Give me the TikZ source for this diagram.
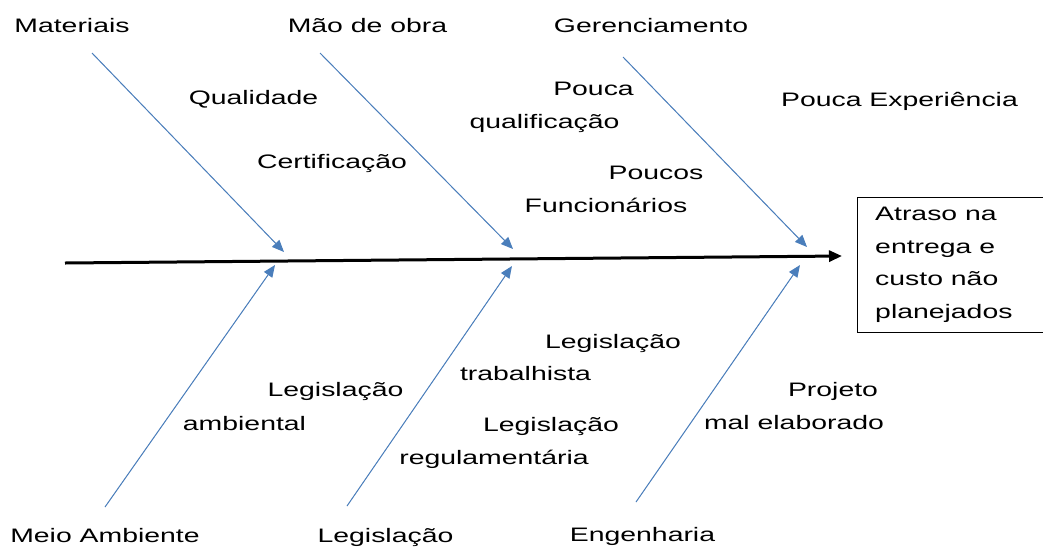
\documentclass[tikz,border=0pt]{standalone}
\usepackage{fontspec}
\setmainfont{Liberation Sans}[FakeStretch=1.456]
\usetikzlibrary{arrows.meta}
\definecolor{brblue}{RGB}{74,126,187}
\begin{document}
\begin{tikzpicture}[x=1pt,y=-1pt,
  lbl/.style={anchor=base,inner sep=0pt,font=\fontsize{19.5}{23}\selectfont},
  lbll/.style={anchor=base west,inner sep=0pt,font=\fontsize{19.5}{23}\selectfont},
  branch/.style={draw=brblue,line width=1pt,-{Triangle[length=12pt,width=10pt]},fill=brblue},
  spine/.style={draw=black,line width=3pt,-{Triangle[length=13pt,width=11pt]}},
  effectbox/.style={draw=black,line width=1pt,anchor=north west,minimum width=203pt,minimum height=135pt,inner sep=0pt}]
\useasboundingbox (0,0) rectangle (1043,547);
\clip (0,0) rectangle (1043,547);
\fill[white] (0,0) rectangle (1043,547);

% spine
\coordinate (s0) at (65,263);
\coordinate (s1) at (842,256);
\draw[spine] (s0) -- (s1);

% effect box
\node[effectbox] (effect) at (857,197) {};
\node[lbll] (e1) at (875,220.5) {Atraso na};
\node[lbll] (e2) at (875,253) {entrega e};
\node[lbll] (e3) at (875,285.5) {custo não};
\node[lbll] (e4) at (875,318) {planejados};

% top branches
\coordinate (ma0) at (92,53);   \coordinate (ma1) at (284,252);
\coordinate (mo0) at (320,53);  \coordinate (mo1) at (513,249);
\coordinate (ge0) at (623,57);  \coordinate (ge1) at (807,247);
\draw[branch] (ma0) -- (ma1);
\draw[branch] (mo0) -- (mo1);
\draw[branch] (ge0) -- (ge1);

% bottom branches
\coordinate (me0) at (105,507); \coordinate (me1) at (275,265);
\coordinate (le0) at (347,506); \coordinate (le1) at (512,266);
\coordinate (en0) at (636,502); \coordinate (en1) at (800,265);
\draw[branch] (me0) -- (me1);
\draw[branch] (le0) -- (le1);
\draw[branch] (en0) -- (en1);

% category labels
\node[lbl] (tMat) at (72,32) {Materiais};
\node[lbl] (tMao) at (367.5,32) {Mão de obra};
\node[lbl] (tGer) at (651,32) {Gerenciamento};
\node[lbl] (tMei) at (105,542) {Meio Ambiente};
\node[lbl] (tLeg) at (385.5,542) {Legislação};
\node[lbl] (tEng) at (642.5,541) {Engenharia};

% cause labels
\node[lbl] (c1) at (253.5,104) {Qualidade};
\node[lbl] (c2) at (332,168) {Certificação};
\node[lbl] (c3a) at (593.5,95) {Pouca};
\node[lbl] (c3b) at (544.5,128) {qualificação};
\node[lbl] (c4a) at (656,179) {Poucos};
\node[lbl] (c4b) at (606,212) {Funcionários};
\node[lbl] (c5) at (899.5,106.5) {Pouca Experiência};
\node[lbl] (c6a) at (335.5,396.5) {Legislação};
\node[lbl] (c6b) at (244.5,430) {ambiental};
\node[lbl] (c7a) at (613,348) {Legislação};
\node[lbl] (c7b) at (525.5,380.5) {trabalhista};
\node[lbl] (c8a) at (551,431.5) {Legislação};
\node[lbl] (c8b) at (494,464) {regulamentária};
\node[lbl] (c9a) at (833,396.5) {Projeto};
\node[lbl] (c9b) at (794,429) {mal elaborado};
\end{tikzpicture}
\end{document}
